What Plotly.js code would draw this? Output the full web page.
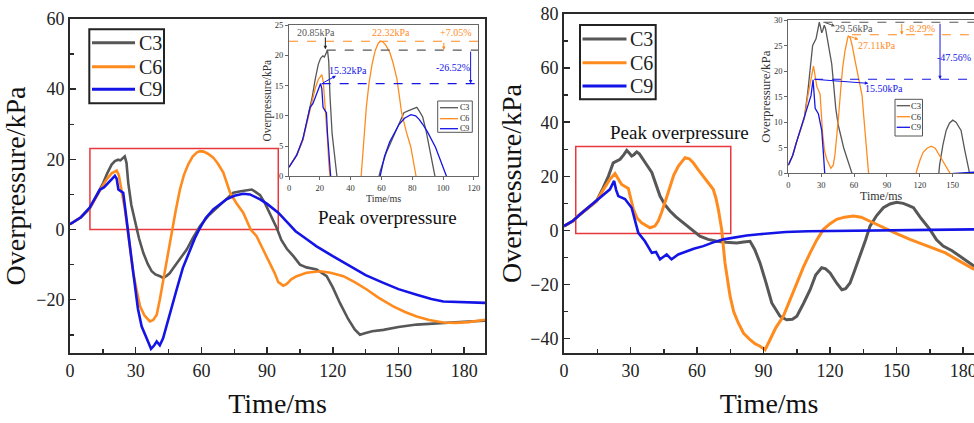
<!DOCTYPE html>
<html><head><meta charset="utf-8">
<script src="https://cdn.plot.ly/plotly-3.0.1.min.js"></script>
<style>body{margin:0;background:#fff}#chart{width:974px;height:423px}</style>
</head><body><div id="chart"></div>
<script>
// ---------------- data ----------------
const seriesNames = ['C3', 'C6', 'C9'];

// Left panel (Time/ms, Overpressure/kPa)
const leftC3_t = [0,5,9,13,15.2,17,19,20.5,22,23,24,25,25.8,26.6,28,29.7,31.5,33.5,35.5,37.3,39,41.1,42.5,44.1,45.5,47.2,50,53.3,56,59.4,63,67,70.5,74.6,78,81,83,84.5,86.8,89,92,94.5,96.5,99,102,105,108,112.6,117.2,120,123.3,127,130,132.4,135,138,143.1,150,158.3,165,173.5,180,189.5];
const leftC3_p = [1.5,3.5,6,10.5,13.3,16,18.5,19.5,19.9,19.7,20.3,20.85,19,13.3,7,1.9,-2.5,-6.7,-9.8,-11.9,-12.8,-13.3,-13.8,-13.2,-12.5,-11,-8.5,-5.7,-2.5,1,3.8,6.2,8.3,10.5,10.9,11.2,11.4,10.8,9.8,7.5,3.5,0.3,-3,-5.5,-7.6,-10,-10.8,-11.4,-13.3,-16.5,-21,-25.5,-28.5,-30,-29.5,-29,-28.6,-27.8,-27.1,-26.8,-26.5,-26.3,-26];

const leftC6_t = [0,5,9,13,15,17,19,20.5,21.3,22.3,23.6,25,25.9,27.5,28.9,30.5,32,34,36.5,38,39.6,41,42.6,44.5,46.4,48.3,50.2,52,54,56,58,59.4,61,63,65.4,67.5,70,71.5,73.1,76,79.1,82.5,85.2,88,91.3,93.5,95.1,97.4,99,101,103.5,108,114.2,119,124.8,130,135.5,141,147.6,153,158.3,164,170.5,176,182,189.5];
const leftC6_p = [1.5,3.5,6,10.5,12.5,14.5,16,16.5,16.8,15.5,11.4,6,1.9,-6,-12.4,-17.5,-21.9,-24.5,-26.2,-25.8,-24.3,-20,-14.3,-7.5,-0.9,5.5,11.4,15.5,18.6,20.8,22,22.32,22.2,21.6,20.5,18.8,16.2,13.5,10.5,7.5,4.8,0,-1.9,-5.5,-9.5,-12.5,-15,-16,-15.5,-14.2,-13.3,-12.3,-11.9,-12.3,-13.3,-15,-17.1,-19.5,-21.9,-23.5,-24.8,-25.8,-26.5,-26.6,-26.4,-25.7];

const leftC9_t = [0,5,9,11,13.7,15.5,17,19,20.5,21.3,22.1,23.5,24.3,25,25.8,26.6,28,29.7,31,32.7,34.5,36,37,38.5,39.6,41,42.5,44.1,46,48.7,51.5,54.8,57,59.4,62,65.4,68.5,71.5,75,79.1,82.2,84.5,86.8,90,95.1,100,103,107,112.6,120,127.9,135,143.1,150,158.3,165,170.5,180,189.5];
const leftC9_p = [1.5,3.5,6.2,8.5,11.4,12,13,14.5,15.32,14.5,11.4,10.8,10.5,7,2,-1,-8,-17,-22.5,-27.6,-30,-32.5,-34,-33,-31.9,-33,-31,-27.6,-23,-17.1,-11,-5.7,-2.5,0.5,3.3,5.7,7.3,8.6,9.6,10.2,10,9.4,8.6,7.3,4.8,1.5,-0.5,-2.3,-4.8,-7.6,-10.5,-13,-15.2,-17,-18.6,-19.8,-20.5,-20.7,-20.9];

// Right panel
const rightC3_t = [0,4,7.2,10,14.7,17.7,20,22.2,25.3,27,28.3,29.5,30.5,31.5,32.8,34,35.8,37.5,39.6,41.5,43.3,45.5,47.8,50.5,53.8,57.5,61.3,65,68.9,73,77.9,81,83.9,86,88.4,91,93.7,97.4,100.4,103,105,108,111,113.5,116.2,118,120,123,125.3,127,129,131,133.5,136,138,141,144,147,150,153,155.5,157.6,161,165,168,171,175,178.6,182,185];
const rightC3_p = [1.6,3.5,5.9,7.8,10.9,15.8,20,25,26.3,28,29.56,28.5,27.5,28,29,28.3,26.3,24,21.4,17,12.7,9.5,7.2,5,2.8,0.2,-2.1,-3.3,-4,-4.4,-4.6,-4.3,-4,-7,-12,-19,-26.8,-31.7,-33,-32.8,-31.7,-27,-21.9,-16.5,-13.8,-14.2,-15.7,-19.5,-21.9,-21.5,-19.4,-15,-9.5,-3.5,1.6,5.5,8.4,9.8,10.4,10,9.2,8.4,4.5,0.4,-3.5,-5.8,-7.5,-9.5,-11.5,-13.2];

const rightC6_t = [0,4,7.2,10,14.7,17.7,20.7,23,24.5,26,29,31.3,33,35,38.8,41,42.5,44,46,47.8,49.5,51.6,54.6,56.5,58.3,60.5,62.8,65,67.3,68.5,69.6,71.1,72.6,74.9,76.5,78.6,81,83.9,86,88.4,90.7,92.9,95.5,98.9,102,105,108,111,114,117,120,123,126.5,130.5,134,138,141.5,145.6,150,156,162,168,172,177,181,185];
const rightC6_p = [1.6,3.5,5.9,7.8,10.9,15,18.9,21,19,17,15.5,7.8,4.5,2.8,1,1.6,3.5,6.6,11.5,16.4,20.5,23.8,26.9,26.5,25,22.5,20.1,17.5,15.2,12,7.8,0.4,-12,-24.3,-30,-34.2,-38,-40.4,-41.8,-42.8,-44.1,-40.4,-36,-31.7,-25.5,-19.4,-13.5,-8.3,-3.5,0.4,2.5,4.1,4.9,5.3,4.9,3.4,2,0.4,-1.2,-3.3,-5.2,-7,-8.3,-10.7,-12.6,-14.4];

const rightC9_t = [0,4,7.2,10,14.7,17.5,20.7,22.6,23.5,24.5,27.5,30.5,32,33.5,36.5,39.6,41.5,43.3,46.3,48.5,51.5,55.3,58.5,62.8,67,71.9,77,82.4,88,94.4,100,110,120,138,150,160,170,185];
const rightC9_p = [1.6,3.5,5.9,7.8,10.9,13,15.2,18.3,15,12.7,11.6,8.4,4,-0.9,-4,-8.3,-8,-10.7,-8.9,-10.7,-8.9,-7.7,-6.8,-5.8,-4.5,-3.3,-2.5,-1.9,-1.4,-0.9,-0.6,-0.3,-0.2,-0.2,0,0.1,0.2,0.4];

// peak values shown in the insets (kPa) and their labels
const leftPeaks  = {C3: 20.85, C6: 22.32, C9: 15.32};
const leftPeakLabels = ['20.85kPa', '22.32kPa', '15.32kPa'];
const leftPctLabels = ['+7.05%', '-26.52%'];
const rightPeaks = {C3: 29.56, C6: 27.11, C9: 18.4};
const rightPeakLabels = ['29.56kPa', '27.11kPa', '15.50kPa'];
const rightPctLabels = ['-8.29%', '-47.56%'];

// ---------------- styling / layout ----------------
const W = 974, H = 423;
const colors = {C3: '#575757', C6: '#FF8B1F', C9: '#1414E6'};
const FONT = 'Liberation Serif, Times New Roman, serif';
const fx = p => p / W;
const fy = p => 1 - p / H;
const dom = (a, b) => [fx(a), fx(b)];
const domY = (top, bottom) => [fy(bottom), fy(top)];

const leftData = {C3: [leftC3_t, leftC3_p], C6: [leftC6_t, leftC6_p], C9: [leftC9_t, leftC9_p]};
const rightData = {C3: [rightC3_t, rightC3_p], C6: [rightC6_t, rightC6_p], C9: [rightC9_t, rightC9_p]};

const traces = [];
seriesNames.forEach(n => {
  traces.push({x: leftData[n][0], y: leftData[n][1], name: n, type: 'scatter', mode: 'lines',
    line: {color: colors[n], width: 2.6}, xaxis: 'x', yaxis: 'y', showlegend: false});
});
seriesNames.forEach(n => {
  traces.push({x: rightData[n][0], y: rightData[n][1], name: n, type: 'scatter', mode: 'lines',
    line: {color: colors[n], width: n === 'C9' ? 2.6 : 3}, xaxis: 'x2', yaxis: 'y2', showlegend: false});
});
seriesNames.forEach(n => {
  traces.push({x: leftData[n][0], y: leftData[n][1], name: n, type: 'scatter', mode: 'lines',
    line: {color: colors[n], width: 1.3}, xaxis: 'x3', yaxis: 'y3', showlegend: false});
});
seriesNames.forEach(n => {
  traces.push({x: rightData[n][0], y: rightData[n][1], name: n, type: 'scatter', mode: 'lines',
    line: {color: colors[n], width: 1.3}, xaxis: 'x4', yaxis: 'y4', showlegend: false});
});

function mainX(domain, range, anchor, mirror) {
  return {domain, range, anchor, showline: true, linewidth: 2, linecolor: '#2a2a2a', mirror,
    ticks: 'inside', ticklen: 6, tickwidth: 1.5, tickcolor: '#2a2a2a', tick0: 0, dtick: 30,
    minor: {ticks: 'inside', ticklen: 4, tickwidth: 1.5, tickcolor: '#2a2a2a', dtick: 15},
    showgrid: false, zeroline: false, ticklabeloverflow: 'allow',
    tickfont: {family: FONT, size: 18, color: '#222'},
    title: {text: 'Time/ms', font: {family: FONT, size: 28, color: '#111'}, standoff: 14}};
}
function mainY(domain, range, anchor, mirror, standoff) {
  return {domain, range, anchor, showline: true, linewidth: 2, linecolor: '#2a2a2a', mirror,
    ticks: 'inside', ticklen: 6, tickwidth: 1.5, tickcolor: '#2a2a2a', tick0: 0, dtick: 20,
    minor: {ticks: 'inside', ticklen: 4, tickwidth: 1.5, tickcolor: '#2a2a2a', dtick: 10},
    showgrid: false, zeroline: false, tickfont: {family: FONT, size: 18, color: '#222'},
    title: {text: 'Overpressure/kPa', font: {family: FONT, size: 28, color: '#111'}, standoff}};
}
function insetX(domain, range, anchor, dtick, tsize) {
  return {domain, range, anchor, showline: true, linewidth: 1, linecolor: '#666', mirror: true,
    ticks: 'outside', ticklen: 3, tickwidth: 1, tickcolor: '#666', tick0: 0, dtick,
    showgrid: false, zeroline: false, tickfont: {family: FONT, size: 8.5, color: '#333'},
    title: {text: 'Time/ms', font: {family: FONT, size: tsize, color: '#333'}, standoff: 3}};
}
function insetY(domain, range, anchor, mirror, tsize) {
  return {domain, range, anchor, showline: true, linewidth: 1, linecolor: '#666', mirror,
    ticks: 'outside', ticklen: 3, tickwidth: 1, tickcolor: '#666', tick0: 0, dtick: 5,
    showgrid: false, zeroline: false, tickfont: {family: FONT, size: 8.5, color: '#333'},
    title: {text: 'Overpressure/kPa', font: {family: FONT, size: tsize, color: '#333'}, standoff: 0}};
}

const L_XR = [0, 189.5], L_YR = [-35.2, 60];
const R_XR = [0, 184.9], R_YR = [-45.3, 80];
const LI_XR = [0, 122.7], LI_YR = [0, 25];
const RI_XR = [0, 169.4], RI_YR = [0, 30];

const shapes = [
  {type: 'rect', xref: 'x', yref: 'y', x0: 9.1, x1: 95.1, y0: 0, y1: 23.1, line: {color: '#E8383D', width: 1.5}, layer: 'below'},
  {type: 'rect', xref: 'x2', yref: 'y2', x0: 5.3, x1: 75.2, y0: -1.1, y1: 31, line: {color: '#E8383D', width: 1.5}, layer: 'below'},
  // dashed reference lines, left inset
  {type: 'line', xref: 'x3', yref: 'y3', x0: 0, x1: LI_XR[1], y0: leftPeaks.C6, y1: leftPeaks.C6, line: {color: colors.C6, width: 1.1, dash: 'dash'}},
  {type: 'line', xref: 'x3', yref: 'y3', x0: 24.5, x1: LI_XR[1], y0: leftPeaks.C3, y1: leftPeaks.C3, line: {color: colors.C3, width: 1.1, dash: 'dash'}},
  {type: 'line', xref: 'x3', yref: 'y3', x0: 21.2, x1: LI_XR[1], y0: leftPeaks.C9, y1: leftPeaks.C9, line: {color: colors.C9, width: 1.1, dash: 'dash'}},
  // dashed reference lines, right inset
  {type: 'line', xref: 'x4', yref: 'y4', x0: 32, x1: RI_XR[1], y0: rightPeaks.C3, y1: rightPeaks.C3, line: {color: colors.C3, width: 1.1, dash: 'dash'}},
  {type: 'line', xref: 'x4', yref: 'y4', x0: 58, x1: RI_XR[1], y0: rightPeaks.C6, y1: rightPeaks.C6, line: {color: colors.C6, width: 1.1, dash: 'dash'}},
  {type: 'line', xref: 'x4', yref: 'y4', x0: 23.5, x1: RI_XR[1], y0: rightPeaks.C9, y1: rightPeaks.C9, line: {color: colors.C9, width: 1.1, dash: 'dash'}}
];

const annotations = [
  {xref: 'x', yref: 'y', x: 145.2, y: 3.4, text: 'Peak overpressure', showarrow: false, font: {family: FONT, size: 19, color: '#111'}},
  {xref: 'x2', yref: 'y2', x: 51.9, y: 36.2, text: 'Peak overpressure', showarrow: false, font: {family: FONT, size: 19, color: '#111'}},
  // left inset labels
  {xref: 'x3', yref: 'y3', x: 17.5, y: 23.8, text: leftPeakLabels[0], showarrow: false, font: {family: FONT, size: 10, color: colors.C3}},
  {xref: 'x3', yref: 'y3', x: 66, y: 23.7, text: leftPeakLabels[1], showarrow: false, font: {family: FONT, size: 10, color: colors.C6}},
  {xref: 'x3', yref: 'y3', x: 38.4, y: 17.5, text: leftPeakLabels[2], showarrow: false, font: {family: FONT, size: 10, color: colors.C9}},
  {xref: 'x3', yref: 'y3', x: 108, y: 23.7, text: leftPctLabels[0], showarrow: false, font: {family: FONT, size: 10, color: colors.C6}},
  {xref: 'x3', yref: 'y3', x: 106.5, y: 18.05, text: leftPctLabels[1], showarrow: false, font: {family: FONT, size: 10, color: colors.C9}},
  // right inset labels
  {xref: 'x4', yref: 'y4', x: 60, y: 28.4, text: rightPeakLabels[0], showarrow: false, font: {family: FONT, size: 10, color: colors.C3}},
  {xref: 'x4', yref: 'y4', x: 81, y: 25.1, text: rightPeakLabels[1], showarrow: false, font: {family: FONT, size: 10, color: colors.C6}},
  {xref: 'x4', yref: 'y4', x: 87.3, y: 16.5, text: rightPeakLabels[2], showarrow: false, font: {family: FONT, size: 10, color: colors.C9}},
  {xref: 'x4', yref: 'y4', x: 121, y: 28.4, text: rightPctLabels[0], showarrow: false, font: {family: FONT, size: 10, color: colors.C6}},
  {xref: 'x4', yref: 'y4', x: 168.5, y: 22.7, text: rightPctLabels[1], showarrow: false, xanchor: 'right', font: {family: FONT, size: 10, color: colors.C9}}
];
function arrow(xa, ya, x, y, ax, ay, color) {
  annotations.push({xref: xa, yref: ya, axref: xa, ayref: ya, x, y, ax, ay, text: '', showarrow: true,
    arrowhead: 2, arrowsize: 0.7, arrowwidth: 1, arrowcolor: color, standoff: 0, startstandoff: 0});
}
arrow('x3', 'y3', 100.5, leftPeaks.C3, 100.5, leftPeaks.C6, colors.C6);
arrow('x3', 'y3', 117.9, leftPeaks.C9, 117.9, leftPeaks.C3, colors.C9);
arrow('x3', 'y3', 30.5, 16.6, 21.2, leftPeaks.C9, colors.C9);
arrow('x3', 'y3', 23.6, 21.0, 23.6, 23.2, '#222');
arrow('x4', 'y4', 42.6, 28.8, 32, 29.6, colors.C3);
arrow('x4', 'y4', 63.9, 26.2, 54.7, 26.9, colors.C6);
arrow('x4', 'y4', 73, 17.6, 23.5, rightPeaks.C9, colors.C9);
arrow('x4', 'y4', 103.5, rightPeaks.C6, 103.5, rightPeaks.C3, colors.C6);
arrow('x4', 'y4', 138.4, rightPeaks.C9, 138.4, rightPeaks.C3, colors.C9);

// legends (frame, sample lines, series names)
function legendBox(box, lineX0, lineX1, rowsY, textX, size, lineW, frameW, frameColor) {
  shapes.push({type: 'rect', xref: 'paper', yref: 'paper', x0: fx(box[0]), x1: fx(box[2]), y0: fy(box[3]), y1: fy(box[1]),
    line: {color: frameColor, width: frameW}, fillcolor: 'rgba(255,255,255,0)'});
  seriesNames.forEach((n, i) => {
    shapes.push({type: 'line', xref: 'paper', yref: 'paper', x0: fx(lineX0), x1: fx(lineX1), y0: fy(rowsY[i]), y1: fy(rowsY[i]),
      line: {color: colors[n], width: lineW}});
    annotations.push({xref: 'paper', yref: 'paper', x: fx(textX), y: fy(rowsY[i]), text: n, showarrow: false,
      xanchor: 'left', yanchor: 'middle', xshift: -2, font: {family: FONT, size, color: '#222'}});
  });
}
legendBox([89.3, 29.3, 164, 103.3], 92, 135, [42.7, 66.7, 89.3], 138.5, 20, 3, 2, '#222');
legendBox([580, 25, 655.7, 99.3], 582.5, 626.5, [39, 62.7, 86], 629.5, 20, 3, 2, '#222');
legendBox([437.7, 101, 472.3, 132.3], 440, 458, [107.7, 118.7, 128.7], 460, 8, 1.3, 1, '#555');
legendBox([895, 99.3, 922.5, 136], 896.7, 910, [105.7, 116.7, 127.3], 911, 8.5, 1.3, 1, '#555');

const layout = {
  width: W, height: H, margin: {l: 0, r: 0, t: 0, b: 0}, paper_bgcolor: '#fff', plot_bgcolor: 'rgba(0,0,0,0)',
  font: {family: FONT, color: '#222'}, showlegend: false,
  xaxis: mainX(dom(70, 485), L_XR, 'y', true),
  yaxis: mainY(domY(19, 353), L_YR, 'x', true, 4),
  xaxis2: mainX(dom(564, 974), R_XR, 'y2', true),
  yaxis2: mainY(domY(14, 353), R_YR, 'x2', false, 0),
  xaxis3: insetX(dom(289, 478), LI_XR, 'y3', 20, 10),
  yaxis3: insetY(domY(25, 176.3), LI_YR, 'x3', true, 11.5),
  xaxis4: insetX(dom(788.3, 974), RI_XR, 'y4', 30, 12),
  yaxis4: insetY(domY(20, 173.3), RI_YR, 'x4', false, 13),
  shapes, annotations
};

Plotly.newPlot('chart', traces, layout, {displayModeBar: false, staticPlot: true});
</script></body></html>
